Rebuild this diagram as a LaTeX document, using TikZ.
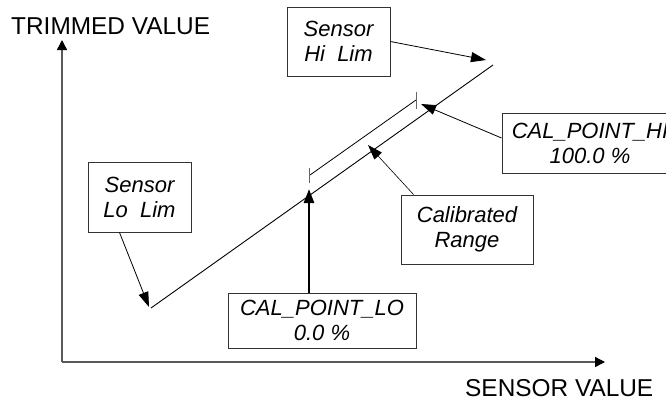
\documentclass[tikz,border=0pt]{standalone}
\usepackage{fontspec}
\setmainfont{Liberation Sans}
\usetikzlibrary{arrows.meta,calc}

\begin{document}
\begin{tikzpicture}[x=1pt,y=1pt,yscale=-1,xscale=1,
  labelbox/.style={draw=black!80,line width=0.9pt,inner sep=0pt,align=center,
    font=\fontsize{22}{25}\selectfont\itshape},
  pointer/.style={line width=0.8pt,-{Triangle[length=15pt,width=10pt]}},
  axisline/.style={draw=black!65,line width=1.4pt,-{Triangle[length=10pt,width=10pt,color=black]}},
  axistext/.style={anchor=west,inner sep=0pt,font=\fontsize{24.4}{26}\selectfont}]
\useasboundingbox (0,0) rectangle (666,400);

%Axes
\coordinate (origin) at (62,362);
\coordinate (yEnd) at (62,40);
\coordinate (xEnd) at (605,362);
\draw [axisline] (origin) -- (yEnd);
\draw [axisline] (origin) -- (xEnd);
\node [axistext] (yLabel) at (11,26.5) {TRIMMED VALUE};
\node [axistext] (xLabel) at (465,388.5) {SENSOR VALUE};

%Trim line
\coordinate (loEnd) at (151,308);
\coordinate (hiEnd) at (493,65);
\draw [line width=0.9pt] (loEnd) -- (hiEnd);

%Calibrated range dimension
\coordinate (rangeLo) at (310,175);
\coordinate (rangeHi) at (416,100);
\draw [line width=0.8pt] (rangeLo) -- (rangeHi);
\draw [black!60,line width=0.8pt] (309,168) -- (309,183);
\draw [black!60,line width=0.8pt] (416,92) -- (416,109);

%Boxes
\node [labelbox,minimum width=103pt,minimum height=69pt] (hiLim) at (338.5,41.5) {Sensor\\Hi\ \ Lim};
\node [labelbox,minimum width=103pt,minimum height=70pt] (loLim) at (139.5,197) {Sensor\\Lo\ \ Lim};
\node [labelbox,minimum width=188pt,minimum height=55pt] (calLo) at (322,320.5) {CAL\_POINT\_LO\\0.0 \%};
\node [labelbox,minimum width=176pt,minimum height=60pt] (calHi) at (590,143) {CAL\_POINT\_HI\\100.0 \%};
\node [labelbox,minimum width=132pt,minimum height=69pt] (calRange) at (467,229.5) {Calibrated\\Range};

%Pointers
\coordinate (hiLimTip) at (486,60);
\coordinate (loLimTip) at (149,307);
\coordinate (calHiTip) at (421,104);
\coordinate (rangeTip) at (368,145);
\coordinate (calLoTip) at (309,189);
\draw [pointer] (hiLim.east) -- (hiLimTip);
\draw [pointer] ($(loLim.south)+(-20,0)$) -- (loLimTip);
\draw [pointer] ($(calHi.west)+(0,-5)$) -- (calHiTip);
\draw [pointer,line width=0.6pt] ($(calRange.north west)+(13,0)$) -- (rangeTip);
\draw [pointer,line width=2.6pt,-{Triangle[length=14pt,width=10pt]}] (calLo.north -| calLoTip) -- (calLoTip);

\end{tikzpicture}
\end{document}
